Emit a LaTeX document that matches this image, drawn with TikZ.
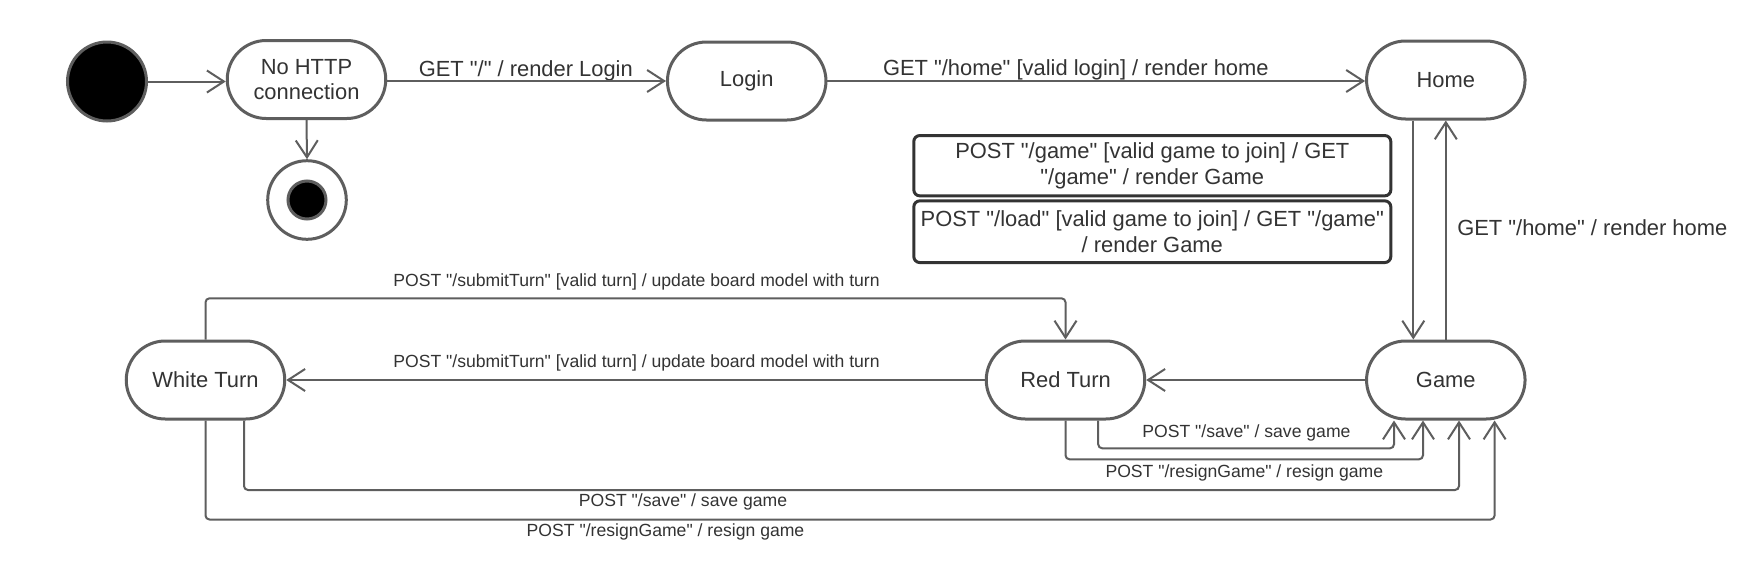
\documentclass[tikz,border=0pt]{standalone}
\usepackage{fontspec}
\setmainfont{Liberation Sans}[Ligatures=TeXOff]
\usetikzlibrary{arrows.meta}
\definecolor{ln}{HTML}{5E5E5E}
\definecolor{tx}{HTML}{333333}
\newcommand\bigtxt{\fontsize{21.9}{25.6}\selectfont}
\newcommand\smalltxt{\fontsize{17.6}{21}\selectfont}
\begin{document}
\begin{tikzpicture}[x=1pt,y=-1pt,
  state/.style={draw=ln, line width=3pt, rounded corners=39pt, minimum width=158.5pt,
    minimum height=78pt, inner sep=0pt, text=tx, font=\bigtxt},
  twoline/.style={align=center},
  initst/.style={circle, draw=ln, line width=3pt, fill=black, minimum size=79pt, inner sep=0pt},
  finalout/.style={circle, draw=ln, line width=3pt, fill=white, minimum size=78.6pt, inner sep=0pt},
  finalin/.style={circle, draw=ln, line width=3pt, fill=black, minimum size=38pt, inner sep=0pt},
  note/.style={draw=tx, line width=3pt, rounded corners=6pt, minimum width=477pt,
    inner sep=0pt, align=center, text=tx, font=\bigtxt},
  lblbig/.style={inner sep=0pt, text=tx, font=\bigtxt},
  lblsm/.style={inner sep=0pt, text=tx, font=\smalltxt},
  conn/.style={draw=ln, line width=2pt, rounded corners=4pt,
    -{Straight Barb[length=17pt,width=22pt]}}]
\useasboundingbox (0,0) rectangle (1749,571);
\fill[white] (0,0) rectangle (1749,571);

% states
\node[initst] (init) at (107,81.5) {};
\node[state, twoline] (nohttp) at (306.5,79.5) {No HTTP\\connection};
\node[finalout] (final) at (307,200) {};
\node[finalin] (finalc) at (final.center) {};
\node[state] (login) at (746.7,81) {Login};
\node[state] (home) at (1445.8,80) {Home};
\node[state] (game) at (1445.8,380) {Game};
\node[state] (red) at (1065.5,380) {Red Turn};
\node[state] (white) at (205.5,380) {White Turn};

% notes
\node[note, minimum height=60.3pt] (box1) at (1152.3,165.7)
  {POST "/game" [valid game to join] / GET\\"/game" / render Game};
\node[note, minimum height=61.7pt] (box2) at (1152.3,231.7)
  {POST "/load" [valid game to join] / GET "/game"\\/ render Game};

% labels
\node[lblbig] (l1) at (525.8,70.5) {GET "/" / render Login};
\node[lblbig] (l2) at (1075.8,70) {GET "/home" [valid login] / render home};
\node[lblbig] (l3) at (1592.3,227.7) {GET "/home" / render home};
\node[lblsm] (l4) at (636.5,282) {POST "/submitTurn" [valid turn] / update board model with turn};
\node[lblsm] (l5) at (636.5,363) {POST "/submitTurn" [valid turn] / update board model with turn};
\node[lblsm] (l6) at (1246.4,433.3) {POST "/save" / save game};
\node[lblsm] (l7) at (1244.3,472.8) {POST "/resignGame" / resign game};
\node[lblsm] (l8) at (683,502.3) {POST "/save" / save game};
\node[lblsm] (l9) at (665.5,531.7) {POST "/resignGame" / resign game};

% routing coordinates
\coordinate (hd) at (1413.3,0);
\coordinate (ytop) at (0,298.3);
\coordinate (rs1) at (1098.2,448.3);
\coordinate (rs2) at (1394,448.3);
\coordinate (rr1) at (1065.5,459.3);
\coordinate (rr2) at (1423,459.3);
\coordinate (ws1) at (244,490);
\coordinate (ws2) at (1459,490);
\coordinate (wr1) at (205.5,519.5);
\coordinate (wr2) at (1494.6,519.5);

% connectors
\draw[conn] (init.east) -- (nohttp.west |- init.east);
\draw[conn] (nohttp.south) -- (final.north);
\draw[conn] (nohttp.east |- login.west) -- (login.west);
\draw[conn] (login.east) -- (home.west |- login.east);
\draw[conn] (home.south -| hd) -- (game.north -| hd);
\draw[conn] (game.north) -- (home.south);
\draw[conn] (game.west) -- (red.east);
\draw[conn] (red.west) -- (white.east);
\draw[conn] (white.north) -- (white.north |- ytop) -- (red.north |- ytop) -- (red.north);
\draw[conn] (red.south -| rs1) -- (rs1) -- (rs2) -- (game.south -| rs2);
\draw[conn] (red.south) -- (rr1) -- (rr2) -- (game.south -| rr2);
\draw[conn] (white.south -| ws1) -- (ws1) -- (ws2) -- (game.south -| ws2);
\draw[conn] (white.south) -- (wr1) -- (wr2) -- (game.south -| wr2);
\end{tikzpicture}
\end{document}
